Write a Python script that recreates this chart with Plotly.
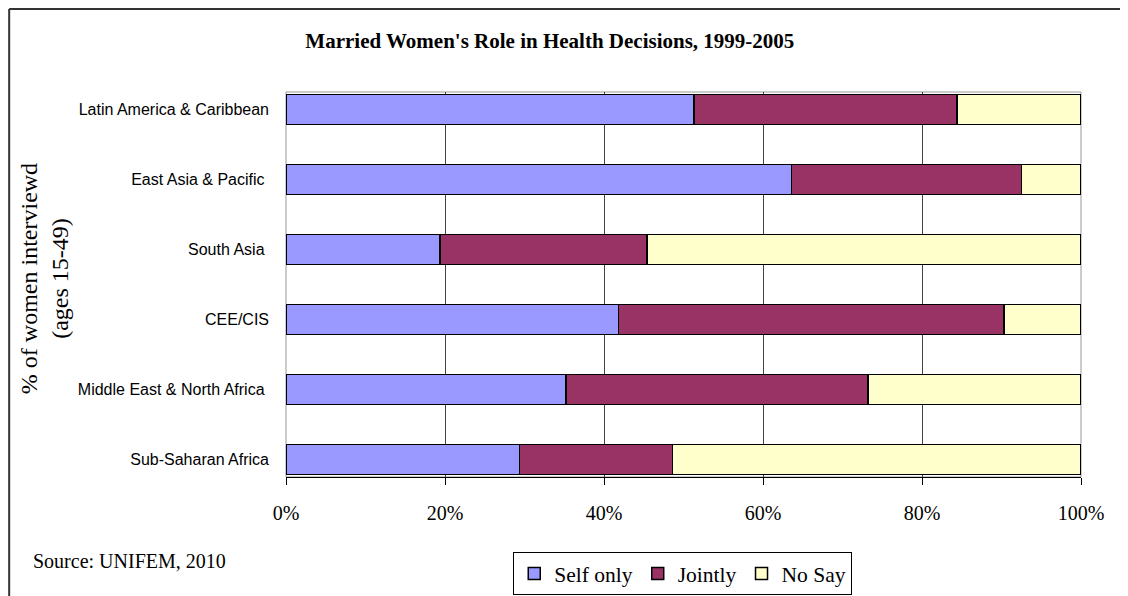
import plotly.graph_objects as go

categories = ["Latin America & Caribbean", "East Asia & Pacific ", "South Asia ",
              "CEE/CIS", "Middle East & North Africa ", "Sub-Saharan Africa"]
self_only = [51.3, 63.6, 19.4, 41.8, 35.2, 29.4]
jointly = [33.1, 28.9, 26.0, 48.5, 38.0, 19.2]
no_say = [15.6, 7.5, 54.6, 9.7, 26.8, 51.4]
series_names = ["Self only", "Jointly", "No Say"]
series_colors = ["#9999FF", "#993366", "#FFFFCC"]
x_ticks = [0, 20, 40, 60, 80, 100]
x_ticklabels = ["0%", "20%", "40%", "60%", "80%", "100%"]

SERIF = "Liberation Serif, Times New Roman, serif"
SANS = "Liberation Sans, Arial, sans-serif"

fig = go.Figure()
for name, vals, col in zip(series_names, [self_only, jointly, no_say], series_colors):
    fig.add_trace(go.Bar(
        y=categories, x=vals, name=name, orientation="h",
        marker=dict(color=col, line=dict(color="black", width=1.5)),
    ))

# page has an 8px body margin; figure is 1120x588 placed at (8,8)
OFF = 8
W, H = 1120, 588
# plot area in screen pixels: x 286..1081.5, y 92..477
L = 286 - OFF
R = W - (1081.5 - OFF)
T = 92 - OFF
B = H - (477 - OFF)
pw, ph = W - L - R, H - T - B

def px(xs):
    return (xs - OFF - L) / pw

def py(ys):
    return (H - B - (ys - OFF)) / ph

fig.update_layout(
    width=W, height=H,
    margin=dict(l=L, r=R, t=T, b=B, autoexpand=False),
    paper_bgcolor="white", plot_bgcolor="white",
    barmode="stack", bargap=0.5714,
    showlegend=True,
    legend=dict(orientation="h", traceorder="normal",
                x=px(683), xanchor="center", y=py(552), yanchor="top",
                bordercolor="black", borderwidth=1,
                font=dict(family=SERIF, size=21.5, color="black"),
                itemwidth=30, tracegroupgap=0),
    title=dict(text="<b>Married Women's Role in Health Decisions, 1999-2005</b>",
               x=px(550), xanchor="center", xref="paper",
               y=1 - (41 - OFF) / H, yanchor="middle",
               font=dict(family=SERIF, size=21, color="black")),
    xaxis=dict(range=[0, 100], tickvals=x_ticks, ticktext=x_ticklabels,
               showgrid=True, gridcolor="#444", gridwidth=1,
               showline=True, linecolor="black", linewidth=1,
               ticks="outside", ticklen=7, tickcolor="black",
               ticklabelstandoff=11,
               tickfont=dict(family=SERIF, size=20, color="black"),
               zeroline=False, fixedrange=True),
    yaxis=dict(categoryorder="array", categoryarray=categories,
               range=[5.25, -0.25], showgrid=False, zeroline=False,
               showline=False, ticks="", ticklabelstandoff=16,
               tickfont=dict(family=SANS, size=16, color="black"),
               fixedrange=True),
    shapes=[
        # plot area border (gray)
        dict(type="rect", xref="paper", yref="paper", x0=0, y0=0, x1=1, y1=1,
             line=dict(color="#999", width=1), layer="below"),
        # outer chart frame: left and top edges
        dict(type="line", xref="paper", yref="paper",
             x0=px(9), y0=py(9), x1=px(9), y1=py(700),
             line=dict(color="#333", width=2), layer="below"),
        dict(type="line", xref="paper", yref="paper",
             x0=px(9), y0=py(9), x1=px(1300), y1=py(9),
             line=dict(color="#333", width=2), layer="below"),
    ],
    annotations=[
        dict(text="% of women interviewd<br>(ages 15-49)", xref="paper", yref="paper",
             x=px(44), y=py(279), xanchor="center", yanchor="middle", textangle=-90,
             showarrow=False, font=dict(family=SERIF, size=24, color="black")),
        dict(text="Source: UNIFEM, 2010", xref="paper", yref="paper",
             x=px(31), y=py(561), xanchor="left", yanchor="middle",
             showarrow=False, font=dict(family=SERIF, size=20, color="black")),
    ],
)

fig.write_html("out.html")
